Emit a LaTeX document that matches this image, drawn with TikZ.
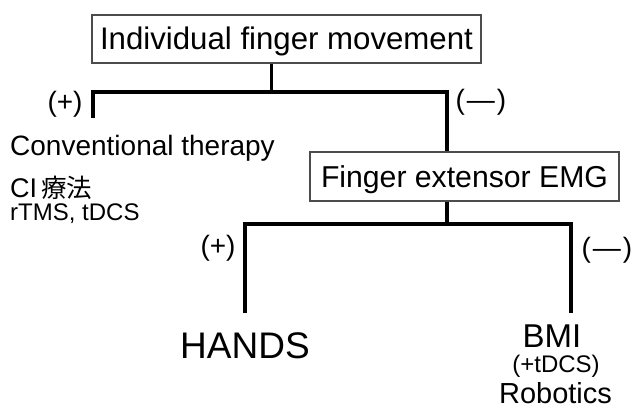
\documentclass[tikz,border=0pt]{standalone}
\usepackage{fontspec}
\setmainfont{Liberation Sans}
\newfontfamily\cjkfont{Noto Sans CJK JP}
\begin{document}
\begin{tikzpicture}[x=1pt,y=-1pt,
  box/.style={draw=black!70, line width=1.1pt, inner sep=0pt, text depth=0pt},
  conn/.style={line width=3.3pt, line join=miter},
  lbl/.style={inner sep=0pt, anchor=base},
  sgn/.style={inner sep=0pt, font=\fontsize{28}{30}\selectfont},
  ]
\useasboundingbox (0,0) rectangle (637,409);
\fill[white] (0,0) rectangle (637,409);
% boxes
\node[box, minimum width=389pt, minimum height=48pt, text height=22pt,
      font=\fontsize{31.2}{33}\selectfont] (top) at (286.5,39) {Individual finger movement};
\node[box, minimum width=309pt, minimum height=49pt, text height=21.5pt,
      font=\fontsize{30.2}{32}\selectfont] (emg) at (464.5,176.5) {Finger extensor EMG};
% left texts
\node[lbl, anchor=base west, font=\fontsize{28}{30}\selectfont] (conv) at (10,155) {Conventional therapy};
\node[lbl, anchor=base west, font=\fontsize{27}{29}\selectfont] (ci) at (10,197) {CI\kern4pt{\cjkfont\fontsize{25.5}{27}\selectfont 療法}};
\node[lbl, anchor=base west, font=\fontsize{24}{26}\selectfont] (rtms) at (10,220.5) {rTMS, tDCS};
% bottom texts
\node[lbl, font=\fontsize{37}{39}\selectfont] (hands) at (245,358) {HANDS};
\node[lbl, font=\fontsize{33}{35}\selectfont] (bmi) at (552,347) {BMI};
\node[lbl, font=\fontsize{24}{26}\selectfont] (tdcs) at (556,372) {(+tDCS)};
\node[lbl, font=\fontsize{29}{31}\selectfont] (robo) at (555.5,403) {Robotics};
% signs
\node[sgn] (p1) at (65,104) {(+)};
\node[sgn] (m1) at (481,102) {(\kern2pt—\kern2pt)};
\node[sgn] (p2) at (218,248) {(+)};
\node[sgn] (m2) at (607,250) {(\kern2pt—\kern2pt)};
% connectors
\coordinate (j1) at (271.5,92);
\coordinate (a1) at (93,92);
\coordinate (a1e) at (93,118);
\coordinate (b1) at (447,92);
\coordinate (j2) at (447,224);
\coordinate (a2) at (245,224);
\coordinate (a2e) at (245,313);
\coordinate (b2) at (571,224);
\coordinate (b2e) at (571,313);
\draw[conn] (top.south -| j1) -- (j1);
\draw[conn] (a1e) -- (a1) -- (b1) -- (emg.north -| b1);
\draw[conn] (emg.south -| j2) -- (j2);
\draw[conn] (a2e) -- (a2) -- (b2) -- (b2e);
\end{tikzpicture}
\end{document}
